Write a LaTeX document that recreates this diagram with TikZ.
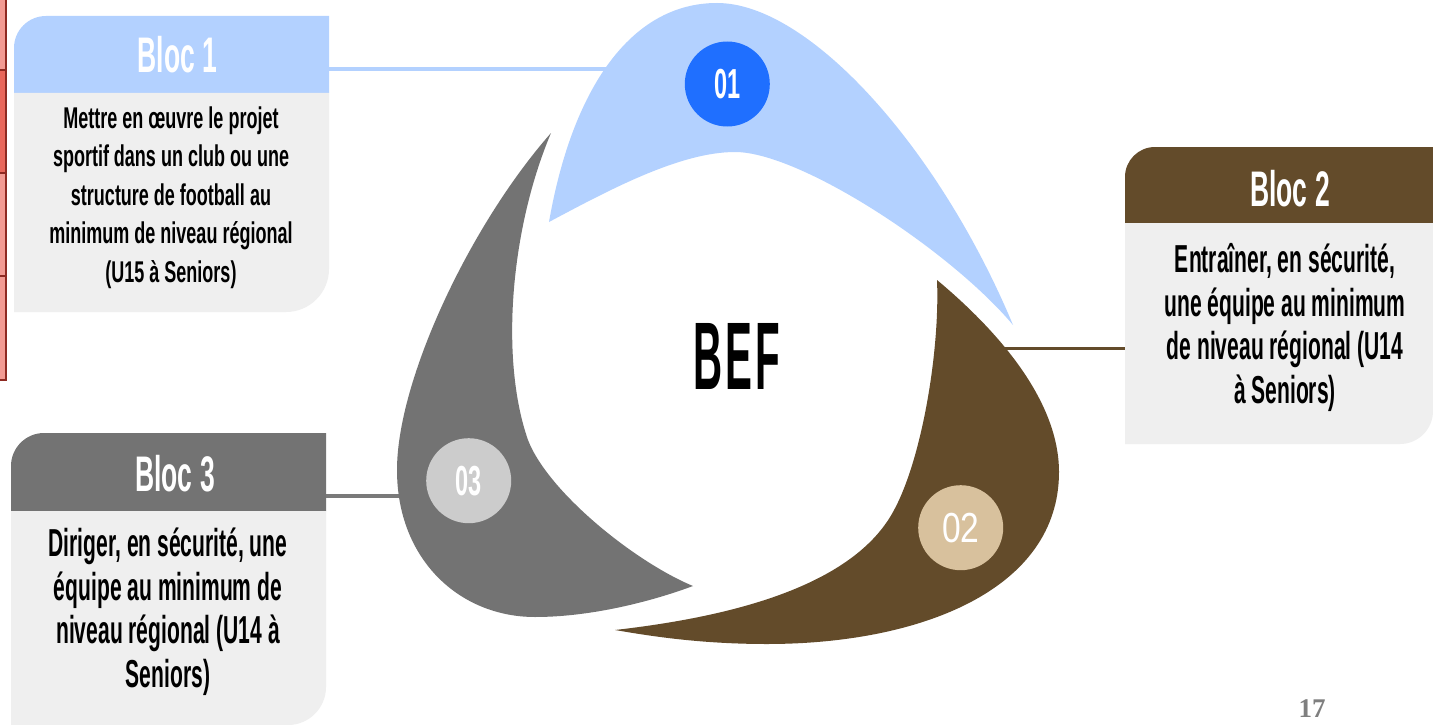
\documentclass[tikz,border=0pt]{standalone}
\usepackage{fontspec}
\setmainfont{Liberation Sans}
\newfontfamily\condf{Liberation Sans}[FakeStretch=0.6]
\newfontfamily\condb{Liberation Sans}[FakeStretch=0.54]
\newfontfamily\condh{Liberation Sans}[FakeStretch=0.53]
\newfontfamily\condn{Liberation Sans}[FakeStretch=0.56]
\newfontfamily\condr{Liberation Sans}[FakeStretch=0.8]
\newfontfamily\beff{Liberation Sans}[FakeStretch=0.42]
\newfontfamily\pnf{Liberation Serif}
\definecolor{blueL}{HTML}{B3D1FF}
\definecolor{blueD}{HTML}{1F6FFF}
\definecolor{brownD}{HTML}{634B2A}
\definecolor{tanL}{HTML}{D8C19D}
\definecolor{greyS}{HTML}{737373}
\definecolor{greyL}{HTML}{CCCCCC}
\definecolor{greyLine}{HTML}{7A7A7A}
\definecolor{boxBody}{HTML}{EFEFEF}
\definecolor{pgray}{HTML}{7F7F7F}
\definecolor{redL}{HTML}{F29B93}
\definecolor{redM}{HTML}{E8675B}
\definecolor{redB}{HTML}{8E2A22}
\begin{document}
\begin{tikzpicture}[x=1pt,y=-1pt,
  hdr/.style={text=white, inner sep=0pt, font=\condh\bfseries\fontsize{50}{54}\selectfont},
  bodyA/.style={align=center, inner sep=0pt, anchor=north, text=black, font=\condf\bfseries\fontsize{30}{38.5}\selectfont},
  bodyB/.style={align=center, inner sep=0pt, anchor=north, text=black, font=\condb\bfseries\fontsize{39}{43.8}\selectfont},
  num/.style={circle, inner sep=0pt, minimum size=85pt, text=white},
  link/.style={line width=3.5pt}]
\useasboundingbox (0,0) rectangle (1433,725);
\fill[white] (0,0) rectangle (1433,725);

% red table edge
\fill[redL] (0,0) rectangle (6,70);
\fill[redM] (0,70) rectangle (6,173);
\fill[redL] (0,173) rectangle (6,276);
\fill[redL] (0,276) rectangle (6,380);
\draw[redB, line width=2pt] (6,0) -- (6,381);
\foreach \yy in {70,173,276,380} \draw[redB, line width=2pt] (0,\yy) -- (7,\yy);

% box 1
\fill[blueL] (14,93) -- (14,48) .. controls (14,30.3) and (28.3,16) .. (46,16) -- (329,16) -- (329,93) -- cycle;
\fill[boxBody] (14,93) -- (329,93) -- (329,269) .. controls (329,292.7) and (309.7,312) .. (286,312) -- (14,312) -- cycle;
\node[hdr] (b1h) at (177.5,55) {Bloc 1};
\node[bodyA] (b1t) at (171,101) {\strut Mettre en œuvre le projet\\sportif dans un club ou une\\structure de football au\\minimum de niveau régional\\(U15 à Seniors)\strut};

% box 2
\fill[brownD] (1125,223) -- (1125,177) .. controls (1125,160.4) and (1138.4,147) .. (1155,147) -- (1433,147) -- (1433,223) -- cycle;
\fill[boxBody] (1125,223) -- (1433,223) -- (1433,411) .. controls (1433,429.2) and (1418.2,444) .. (1400,444) -- (1125,444) -- cycle;
\node[hdr] (b2h) at (1290,189) {Bloc 2};
\node[bodyB] (b2t) at (1285,241.5) {\strut Entraîner, en sécurité,\\une équipe au minimum\\de niveau régional (U14\\à Seniors)\strut};

% box 3
\fill[greyS] (11,511) -- (11,466) .. controls (11,447.8) and (25.8,433) .. (44,433) -- (326,433) -- (326,511) -- cycle;
\fill[boxBody] (11,511) -- (326,511) -- (326,687) .. controls (326,708) and (309,725) .. (288,725) -- (11,725) -- cycle;
\node[hdr] (b3h) at (175,474) {Bloc 3};
\node[bodyB] (b3t) at (168,525.5) {\strut Diriger, en sécurité, une\\équipe au minimum de\\niveau régional (U14 à\\Seniors)\strut};

% connector end points
\coordinate (l1a) at (329,69);
\coordinate (l1b) at (615,69);
\coordinate (l2a) at (1000,348);
\coordinate (l2b) at (1125,348);
\coordinate (l3a) at (326,496);
\coordinate (l3b) at (402,496);
\draw[link, blueL, line width=4pt] (l1a) -- (l1b);
\draw[link, brownD, line width=3pt] (l2a) -- (l2b);
\draw[link, greyLine] (l3a) -- (l3b);

% ring shapes
\fill[blueL] (549,222) .. controls (572,90) and (630,3) .. (717,3)
  .. controls (810,3) and (940,150) .. (1013,325)
  .. controls (950,250) and (800,152) .. (735,152)
  .. controls (680,152) and (609,190) .. (549,222) -- cycle;
\fill[brownD] (937,280) .. controls (997,330) and (1059,400) .. (1059,472)
  .. controls (1059,590) and (920,644) .. (767,644)
  .. controls (700,644) and (650,636) .. (615,630)
  .. controls (720,618) and (850,590) .. (893,512)
  .. controls (922,460) and (940,350) .. (937,280) -- cycle;
\fill[greyS] (551,133) .. controls (470,225) and (397,380) .. (397,470)
  .. controls (397,560) and (460,617) .. (535,617)
  .. controls (590,617) and (650,602) .. (693,586)
  .. controls (635,562) and (548,492) .. (528,440)
  .. controls (500,360) and (510,230) .. (551,133) -- cycle;

% numbered circles
\node[num, fill=blueD, font=\condn\bfseries\fontsize{42}{46}\selectfont] (n1) at (727.3,84) {01};
\node[num, fill=tanL, font=\condr\fontsize{42}{46}\selectfont] (n2) at (960.7,527.7) {02};
\node[num, fill=greyL, font=\condn\bfseries\fontsize{42}{46}\selectfont] (n3) at (468.7,480.7) {03};

% centre title
\node[inner sep=0pt, font=\beff\bfseries\fontsize{96}{100}\selectfont] (bef) at (737,356.5) {B\kern3pt E\kern3pt F};

% page number
\node[inner sep=0pt, text=pgray, font=\pnf\bfseries\fontsize{27}{29}\selectfont] (pn) at (1312,709) {17};
\end{tikzpicture}
\end{document}
